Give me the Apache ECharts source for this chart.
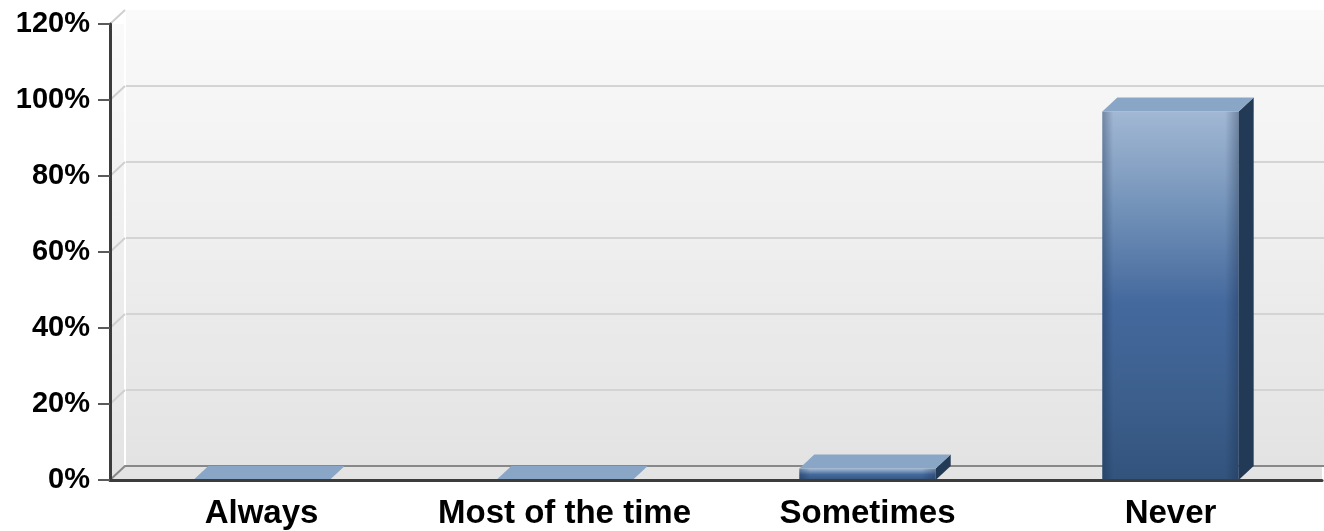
<!DOCTYPE html>
<html>
<head>
<meta charset="utf-8">
<script src="https://cdn.jsdelivr.net/npm/echarts@6/dist/echarts.min.js"></script>
<style>
  html, body { margin: 0; padding: 0; background: #fff; }
  #main { width: 1324px; height: 531px; }
</style>
</head>
<body>
<div id="main"></div>
<script>
// data
var categories = ['Always', 'Most of the time', 'Sometimes', 'Never'];
var percents = [0, 0, 3, 97];
var yTicks = [0, 20, 40, 60, 80, 100, 120];

// depth of the fake 3d
var DX = 15, DY = 14;

var myChart = echarts.init(document.getElementById('main'));

function wallGradient() {
  return new echarts.graphic.LinearGradient(0, 0, 0, 1, [
    { offset: 0, color: '#fafafa' },
    { offset: 1, color: '#e3e3e3' }
  ]);
}

function renderBar(params, api) {
  var idx = api.value(0);
  var v = api.value(1);
  var base = api.coord([idx, 0]);
  var top = api.coord([idx, v]);
  var bw = api.size([1, 0])[0] * 0.45;
  var xl = base[0] - bw / 2, xr = base[0] + bw / 2;
  var yb = base[1], yt = top[1];
  var children = [];
  if (yb - yt > 0) {
    children.push({
      type: 'rect',
      shape: { x: xl, y: yt, width: bw, height: yb - yt },
      style: {
        fill: new echarts.graphic.LinearGradient(0, 0, 0, 1, [
          { offset: 0, color: '#a2b8d4' },
          { offset: 0.25, color: '#7594ba' },
          { offset: 0.52, color: '#44699d' },
          { offset: 0.8, color: '#3b5e8b' },
          { offset: 1, color: '#32537c' }
        ])
      }
    });
    // darker edges on the front face
    children.push({
      type: 'rect',
      shape: { x: xl, y: yt, width: bw, height: yb - yt },
      style: {
        fill: new echarts.graphic.LinearGradient(0, 0, 1, 0, [
          { offset: 0, color: 'rgba(20,40,70,0.35)' },
          { offset: 0.08, color: 'rgba(20,40,70,0)' },
          { offset: 0.9, color: 'rgba(20,40,70,0)' },
          { offset: 1, color: 'rgba(20,40,70,0.35)' }
        ])
      }
    });
    children.push({
      type: 'polygon',
      shape: { points: [[xr, yt], [xr + DX, yt - DY], [xr + DX, yb - DY], [xr, yb]] },
      style: { fill: '#233a57' }
    });
  }
  children.push({
    type: 'polygon',
    shape: { points: [[xl, yt], [xl + DX, yt - DY], [xr + DX, yt - DY], [xr, yt]] },
    style: { fill: '#8aa6c6' }
  });
  return { type: 'group', children: children };
}

function renderWallLine(params, api) {
  var v = api.value(1);
  var cs = params.coordSys;
  var p = api.coord([0, v]);
  return {
    type: 'line',
    shape: { x1: cs.x, y1: p[1], x2: cs.x + DX, y2: p[1] - DY },
    style: { stroke: v === 0 ? '#888888' : '#cfcfcf', lineWidth: 2 }
  };
}

myChart.setOption({
  animation: false,
  grid: [
    // back wall
    { left: 110 + DX, top: 24 - DY, right: 2 - DX, bottom: 51 + DY, show: true,
      backgroundColor: wallGradient(), borderWidth: 0, z: -1, outerBoundsMode: 'none' },
    // front plane
    { left: 110, top: 24, right: 2, bottom: 51, show: true,
      backgroundColor: wallGradient(), borderWidth: 0, z: -2, outerBoundsMode: 'none' }
  ],
  xAxis: [
    { gridIndex: 0, type: 'category', data: categories,
      axisLine: { lineStyle: { color: '#888888', width: 2 } },
      axisTick: { show: false }, axisLabel: { show: false } },
    { gridIndex: 1, type: 'category', data: categories, z: 5,
      axisLine: { lineStyle: { color: '#3c3c3c', width: 3 } },
      axisTick: { alignWithLabel: true, interval: 0, length: 12, lineStyle: { color: '#444', width: 2 } },
      axisLabel: { interval: 0, hideOverlap: false, margin: 17, fontSize: 33, fontWeight: 'bold', color: '#000',
        fontFamily: 'Liberation Sans, Arial, sans-serif' } }
  ],
  yAxis: [
    { gridIndex: 0, type: 'value', min: 0, max: 120, interval: 20,
      axisLine: { show: true, lineStyle: { color: '#ffffff', width: 2 } },
      axisTick: { show: false }, axisLabel: { show: false },
      splitLine: { show: true, showMinLine: false, showMaxLine: false,
        lineStyle: { color: '#d4d4d4', width: 2 } } },
    { gridIndex: 1, type: 'value', min: 0, max: 120, interval: 20, z: 5,
      axisLine: { show: true, lineStyle: { color: '#3c3c3c', width: 3 } },
      axisTick: { show: true, length: 12, lineStyle: { color: '#5a5a5a', width: 2 } },
      splitLine: { show: false },
      axisLabel: { margin: 20, fontSize: 29, fontWeight: 'bold', color: '#000',
        fontFamily: 'Liberation Sans, Arial, sans-serif', formatter: '{value}%' } }
  ],
  series: [
    {
      type: 'custom', xAxisIndex: 1, yAxisIndex: 1, z: 1, silent: true,
      renderItem: renderWallLine,
      data: yTicks.map(function (t) { return [0, t]; })
    },
    {
      type: 'custom', xAxisIndex: 1, yAxisIndex: 1, z: 2,
      renderItem: renderBar,
      encode: { x: 0, y: 1 },
      data: categories.map(function (c, i) { return [i, percents[i]]; })
    }
  ]
});
</script>
</body>
</html>
